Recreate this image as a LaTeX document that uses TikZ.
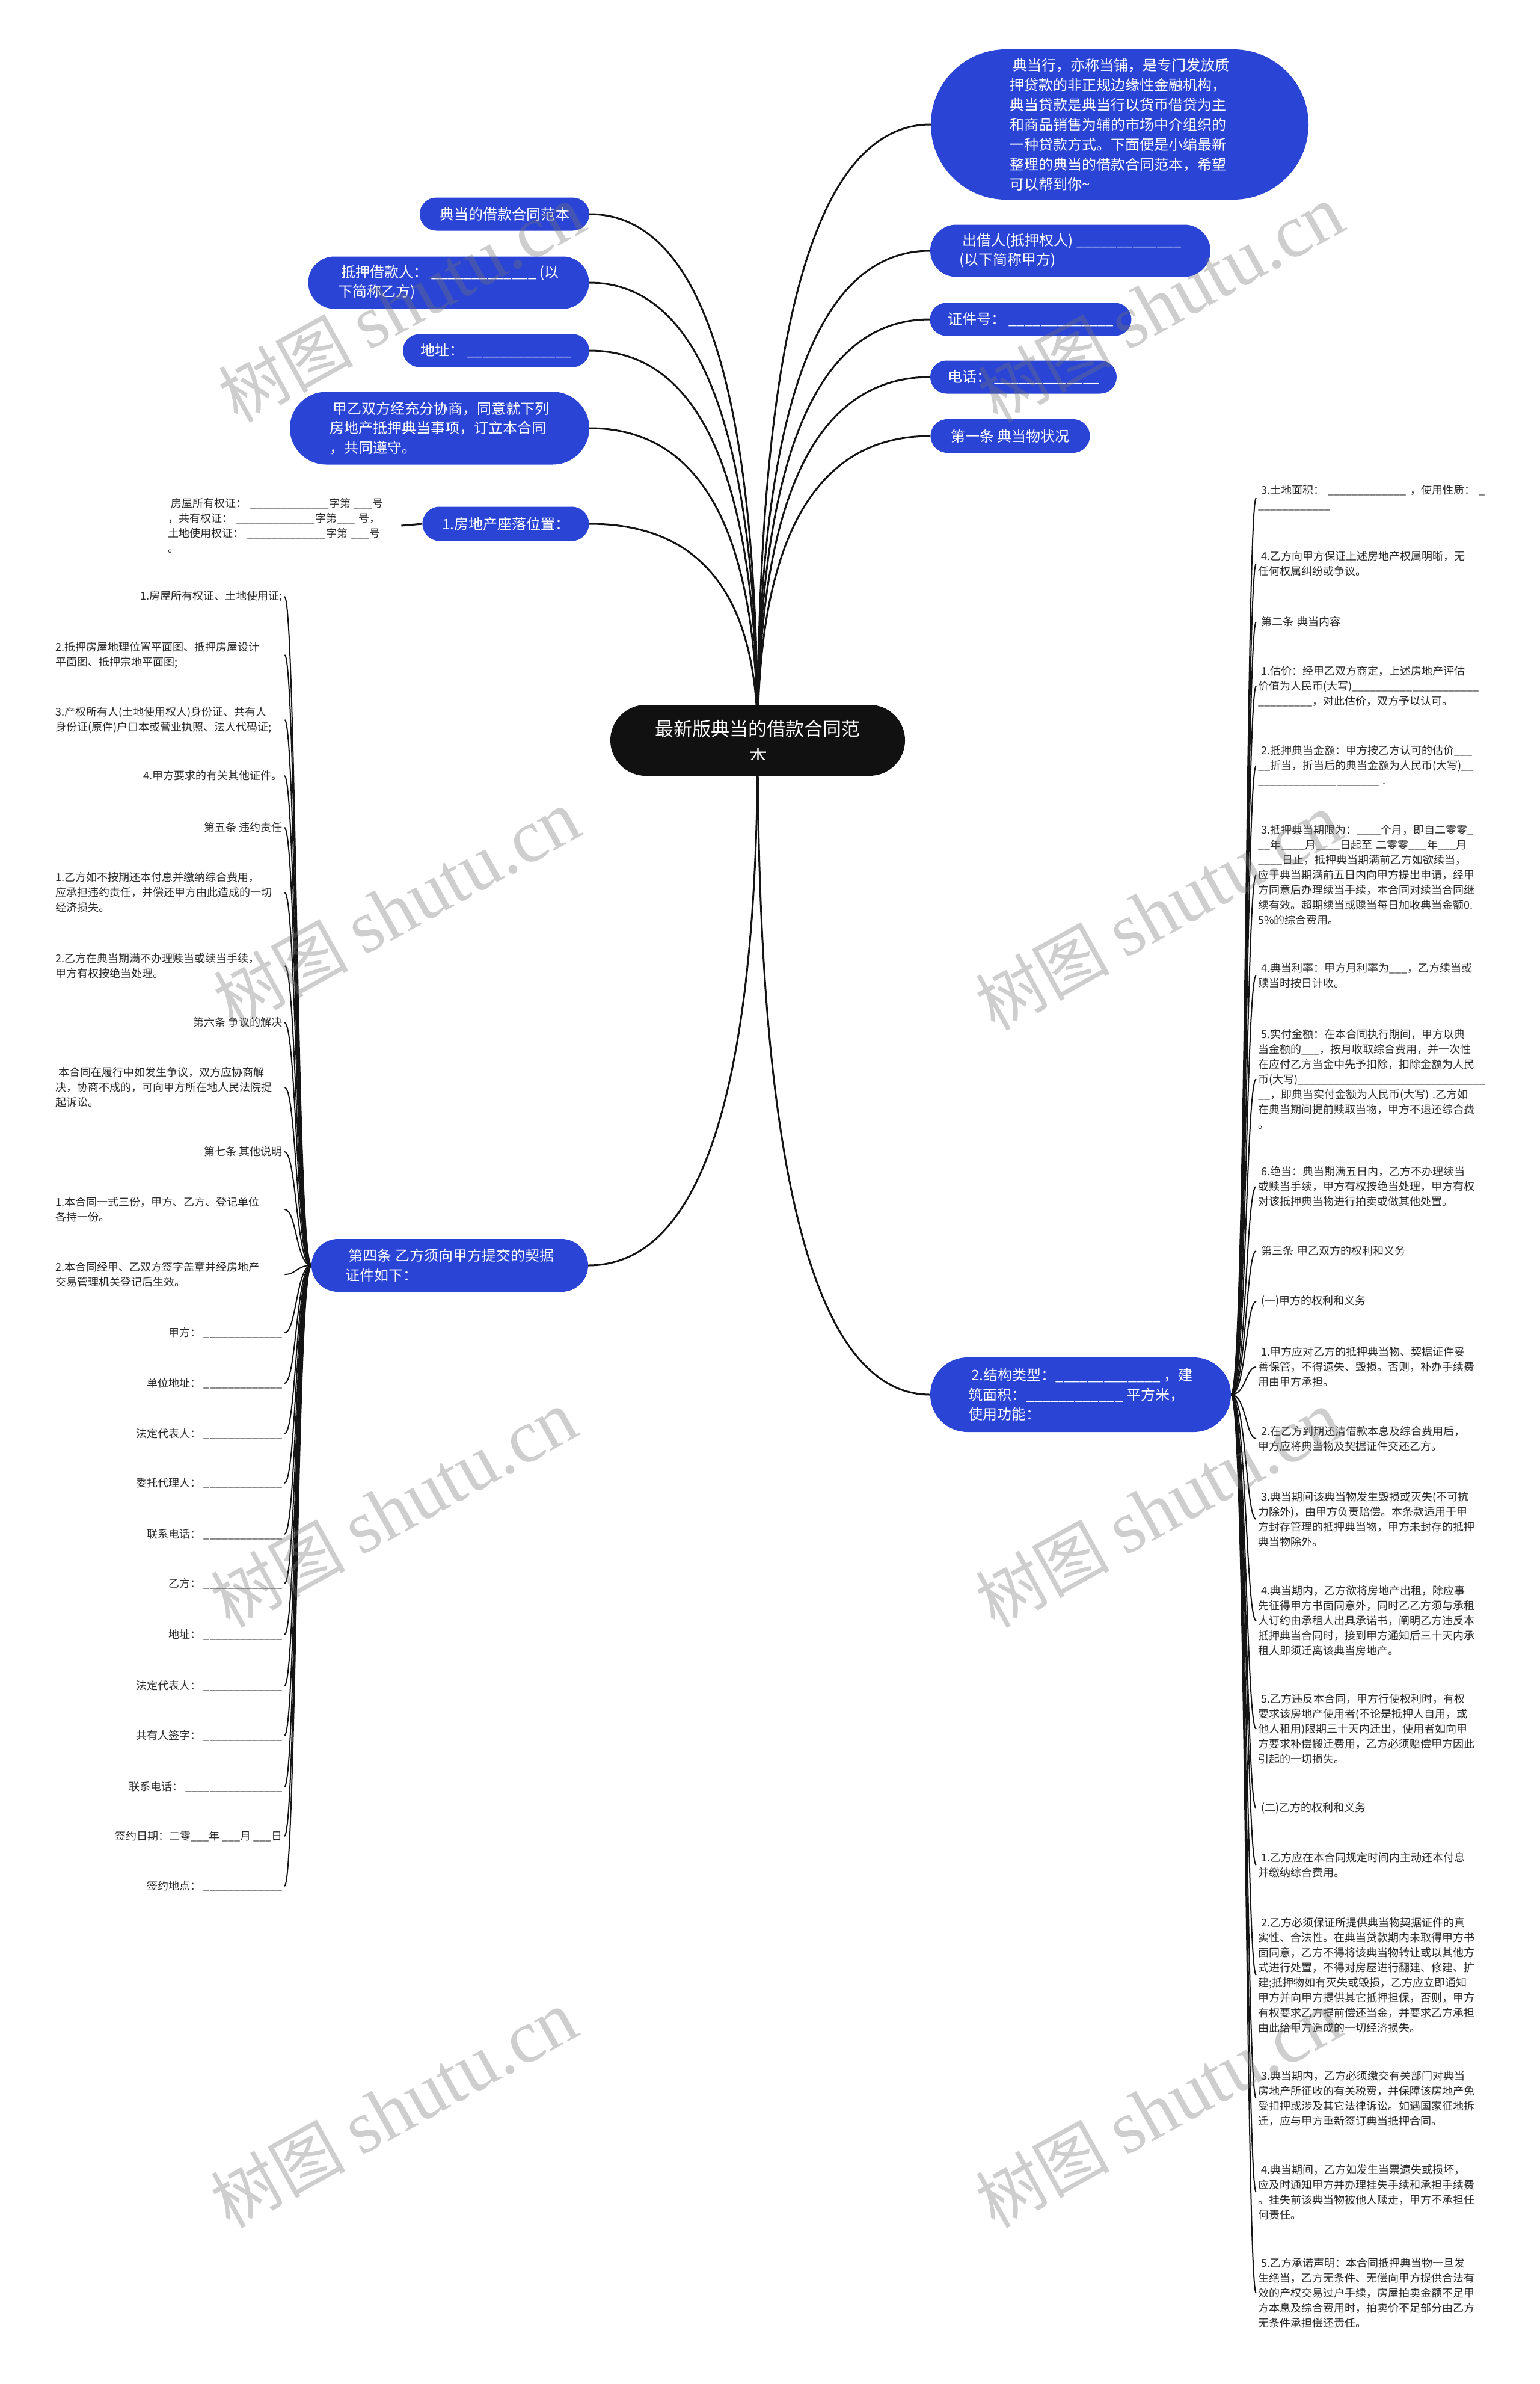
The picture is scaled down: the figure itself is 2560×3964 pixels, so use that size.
\documentclass[tikz,border=0pt]{standalone}
\usepackage{fontspec}
\setmainfont{Noto Sans CJK SC}
\newfontfamily\wmserif{Liberation Serif}
\usetikzlibrary{shapes.misc,backgrounds}
\definecolor{nblue}{RGB}{42,68,214}
\definecolor{nblack}{RGB}{17,17,17}
\definecolor{ltext}{RGB}{40,40,40}
\definecolor{linec}{RGB}{20,20,20}
\ExplSyntaxOn
\NewDocumentCommand\us{m}{\prg_replicate:nn{#1}{\_}}
\ExplSyntaxOff
\newcommand\ls{\hspace*{5pt}}
\newcommand\fblue{\fontsize{24}{32.5}\selectfont}
\newcommand\fbig{\fontsize{24}{33}\selectfont}
\newcommand\flist{\fontsize{18}{25}\selectfont}
\newcommand\fctr{\fontsize{31}{41}\selectfont}
\newcommand\fwm{\fontsize{112}{112}\selectfont}
\tikzset{
  bluenode/.style={rounded rectangle, fill=nblue, text=white, font=\fblue, align=left, inner sep=0pt},
  ctrnode/.style={rounded rectangle, fill=nblack, inner sep=0pt},
  litem/.style={font=\flist, text=ltext, align=left, inner sep=3pt},
  lmulti/.style={litem, text width=378pt, anchor=west},
  lsingle/.style={litem, anchor=east},
  ritem/.style={litem, text width=400pt, anchor=west},
  conn/.style={line width=3pt, draw=linec},
  lconn/.style={line width=2pt, draw=linec},
  wm/.style={rotate=29, text=black!55, text opacity=0.35, font=\fwm, inner sep=0pt}
}
\begin{document}
\begin{tikzpicture}[x=1pt,y=-1pt]
\useasboundingbox (0,0) rectangle (2560,3964);

% ---------- centre ----------
\node[ctrnode, minimum width=490pt, minimum height=118pt] (ctr) at (1260,1231) {};
\node[font=\fctr, text=white, inner sep=0pt] (ctrt) at (1260,1212) {最新版典当的借款合同范};
\begin{scope}
\clip (1015,1230) rectangle (1505,1262);
\node[font=\fctr, text=white, inner sep=0pt] (ctrb) at (1261,1258) {本};
\end{scope}

% ---------- right blue nodes ----------
\node[bluenode, font=\fbig, minimum width=628pt, minimum height=250pt] (intro) at (1862,207)
 {\ls 典当行，亦称当铺，是专门发放质\\押贷款的非正规边缘性金融机构，\\典当贷款是典当行以货币借贷为主\\和商品销售为辅的市场中介组织的\\一种贷款方式。下面便是小编最新\\整理的典当的借款合同范本，希望\\可以帮到你\textasciitilde};
\node[bluenode, minimum width=466pt, minimum height=87pt] (lender) at (1780,417)
 {\ls 出借人(抵押权人) \us{13}\\(以下简称甲方)};
\node[bluenode, minimum width=335pt, minimum height=55pt] (idno) at (1714,531) {证件号： \us{13}};
\node[bluenode, minimum width=310pt, minimum height=55pt] (tel) at (1702,627) {电话： \us{13}};
\node[bluenode, minimum width=265pt, minimum height=56pt] (art1) at (1680,725) {第一条 典当物状况};
\node[bluenode, minimum width=500pt, minimum height=124pt] (struct) at (1797,2319)
 {\ls 2.结构类型：\us{13} ，建\\筑面积：\us{12} 平方米，\\使用功能：};

% ---------- left blue nodes ----------
\node[bluenode, minimum width=282pt, minimum height=55pt] (title) at (839,356) {典当的借款合同范本};
\node[bluenode, minimum width=467pt, minimum height=87pt] (borrower) at (746,470)
 {\ls 抵押借款人： \us{13} (以\\下简称乙方)};
\node[bluenode, minimum width=310pt, minimum height=55pt] (addr) at (825,583) {地址： \us{13}};
\node[bluenode, minimum width=498pt, minimum height=121pt] (agree) at (731,712)
 {\ls 甲乙双方经充分协商，同意就下列\\房地产抵押典当事项，订立本合同\\，共同遵守。};
\node[bluenode, minimum width=277pt, minimum height=57pt] (loc) at (841,871) {1.房地产座落位置：};
\node[bluenode, minimum width=460pt, minimum height=88pt] (art4) at (748,2104)
 {\ls 第四条 乙方须向甲方提交的契据\\证件如下：};

\node[litem, text width=385pt, anchor=west] (prop) at (276,874)
 {\ls 房屋所有权证： \us{13}字第 \us{3}号\\，共有权证： \us{13}字第\us{3} 号，\\土地使用权证： \us{13}字第 \us{3}号\\。};

% ---------- left list ----------
\node[lsingle] (l1) at (473,992) {1.房屋所有权证、土地使用证;};
\node[lmulti] (l2) at (89,1089) {2.抵押房屋地理位置平面图、抵押房屋设计\\平面图、抵押宗地平面图;};
\node[lmulti] (l3) at (89,1197) {3.产权所有人(土地使用权人)身份证、共有人\\身份证(原件)户口本或营业执照、法人代码证;};
\node[lsingle] (l4) at (473,1290) {4.甲方要求的有关其他证件。};
\node[lsingle] (l5) at (473,1376) {第五条 违约责任};
\node[lmulti] (l6) at (89,1484) {1.乙方如不按期还本付息并缴纳综合费用，\\应承担违约责任，并偿还甲方由此造成的一切\\经济损失。};
\node[lmulti] (l7) at (89,1606) {2.乙方在典当期满不办理赎当或续当手续，\\甲方有权按绝当处理。};
\node[lsingle] (l8) at (473,1700) {第六条 争议的解决};
\node[lmulti] (l9) at (89,1808) {\ls 本合同在履行中如发生争议，双方应协商解\\决，协商不成的，可向甲方所在地人民法院提\\起诉讼。};
\node[lsingle] (l10) at (473,1915) {第七条 其他说明};
\node[lmulti] (l11) at (89,2011) {1.本合同一式三份，甲方、乙方、登记单位\\各持一份。};
\node[lmulti] (l12) at (89,2119) {2.本合同经甲、乙双方签字盖章并经房地产\\交易管理机关登记后生效。};
\node[lsingle] (l13) at (473,2216) {甲方： \us{13}};
\node[lsingle] (l14) at (473,2300) {单位地址： \us{13}};
\node[lsingle] (l15) at (473,2384) {法定代表人： \us{13}};
\node[lsingle] (l16) at (473,2466) {委托代理人： \us{13}};
\node[lsingle] (l17) at (473,2551) {联系电话： \us{13}};
\node[lsingle] (l18) at (473,2633) {乙方： \us{13}};
\node[lsingle] (l19) at (473,2718) {地址： \us{13}};
\node[lsingle] (l20) at (473,2803) {法定代表人： \us{13}};
\node[lsingle] (l21) at (473,2886) {共有人签字： \us{13}};
\node[lsingle] (l22) at (473,2971) {联系电话： \us{16}};
\node[lsingle] (l23) at (473,3053) {签约日期：二零\us{3}年 \us{3}月 \us{3}日};
\node[lsingle] (l24) at (473,3136) {签约地点： \us{13}};

% ---------- right list ----------
\node[ritem] (r1) at (2089,828) {\ls 3.土地面积： \us{13} ，使用性质： \_\\\us{12}};
\node[ritem] (r2) at (2089,937) {\ls 4.乙方向甲方保证上述房地产权属明晰，无\\任何权属纠纷或争议。};
\node[ritem] (r3) at (2089,1034) {\ls 第二条 典当内容};
\node[ritem] (r4) at (2089,1141) {\ls 1.估价：经甲乙双方商定，上述房地产评估\\价值为人民币(大写)\us{21}\\\us{9}，对此估价，双方予以认可。};
\node[ritem] (r5) at (2089,1273) {\ls 2.抵押典当金额：甲方按乙方认可的估价\us{3}\\\us{2}折当，折当后的典当金额为人民币(大写)\us{2}\\\us{20} .};
\node[ritem] (r6) at (2089,1455) {\ls 3.抵押典当期限为：\us{4}个月，即自二零零\_\\\us{2}年\us{4}月\us{4}日起至 二零零\us{3}年\us{3}月\\\us{4}日止，抵押典当期满前乙方如欲续当，\\应于典当期满前五日内向甲方提出申请，经甲\\方同意后办理续当手续，本合同对续当合同继\\续有效。超期续当或赎当每日加收典当金额0.\\5\%的综合费用。};
\node[ritem] (r7) at (2089,1622) {\ls 4.典当利率：甲方月利率为\us{3}，乙方续当或\\赎当时按日计收。};
\node[ritem] (r8) at (2089,1794) {\ls 5.实付金额：在本合同执行期间，甲方以典\\当金额的\us{3}，按月收取综合费用，并一次性\\在应付乙方当金中先予扣除，扣除金额为人民\\币(大写)\us{31}\\\us{2}，即典当实付金额为人民币(大写) .乙方如\\在典当期间提前赎取当物，甲方不退还综合费\\。};
\node[ritem] (r9) at (2089,1973) {\ls 6.绝当：典当期满五日内，乙方不办理续当\\或赎当手续，甲方有权按绝当处理，甲方有权\\对该抵押典当物进行拍卖或做其他处置。};
\node[ritem] (r10) at (2089,2080) {\ls 第三条 甲乙双方的权利和义务};
\node[ritem] (r11) at (2089,2164) {\ls (一)甲方的权利和义务};
\node[ritem] (r12) at (2089,2273) {\ls 1.甲方应对乙方的抵押典当物、契据证件妥\\善保管，不得遗失、毁损。否则，补办手续费\\用由甲方承担。};
\node[ritem] (r13) at (2089,2392) {\ls 2.在乙方到期还清借款本息及综合费用后，\\甲方应将典当物及契据证件交还乙方。};
\node[ritem] (r14) at (2089,2526) {\ls 3.典当期间该典当物发生毁损或灭失(不可抗\\力除外)，由甲方负责赔偿。本条款适用于甲\\方封存管理的抵押典当物，甲方未封存的抵押\\典当物除外。};
\node[ritem] (r15) at (2089,2695) {\ls 4.典当期内，乙方欲将房地产出租，除应事\\先征得甲方书面同意外，同时乙乙方须与承租\\人订约由承租人出具承诺书，阐明乙方违反本\\抵押典当合同时，接到甲方通知后三十天内承\\租人即须迁离该典当房地产。};
\node[ritem] (r16) at (2089,2875) {\ls 5.乙方违反本合同，甲方行使权利时，有权\\要求该房地产使用者(不论是抵押人自用，或\\他人租用)限期三十天内迁出，使用者如向甲\\方要求补偿搬迁费用，乙方必须赔偿甲方因此\\引起的一切损失。};
\node[ritem] (r17) at (2089,3007) {\ls (二)乙方的权利和义务};
\node[ritem] (r18) at (2089,3101) {\ls 1.乙方应在本合同规定时间内主动还本付息\\并缴纳综合费用。};
\node[ritem] (r19) at (2089,3284) {\ls 2.乙方必须保证所提供典当物契据证件的真\\实性、合法性。在典当贷款期内未取得甲方书\\面同意，乙方不得将该典当物转让或以其他方\\式进行处置，不得对房屋进行翻建、修建、扩\\建;抵押物如有灭失或毁损，乙方应立即通知\\甲方并向甲方提供其它抵押担保，否则，甲方\\有权要求乙方提前偿还当金，并要求乙方承担\\由此给甲方造成的一切经济损失。};
\node[ritem] (r20) at (2089,3489) {\ls 3.典当期内，乙方必须缴交有关部门对典当\\房地产所征收的有关税费，并保障该房地产免\\受扣押或涉及其它法律诉讼。如遇国家征地拆\\迁，应与甲方重新签订典当抵押合同。};
\node[ritem] (r21) at (2089,3645) {\ls 4.典当期间，乙方如发生当票遗失或损坏，\\应及时通知甲方并办理挂失手续和承担手续费\\。挂失前该典当物被他人赎走，甲方不承担任\\何责任。};
\node[ritem] (r22) at (2089,3813) {\ls 5.乙方承诺声明：本合同抵押典当物一旦发\\生绝当，乙方无条件、无偿向甲方提供合法有\\效的产权交易过户手续，房屋拍卖金额不足甲\\方本息及综合费用时，拍卖价不足部分由乙方\\无条件承担偿还责任。};

% ---------- connectors ----------
\begin{pgfonlayer}{background}
\fill[white] (0,0) rectangle (2560,3964);
\draw[conn] (ctr.center) .. controls (1260,548) and (1356,207) .. (intro.west);
\draw[conn] (ctr.center) .. controls (1260,688) and (1356,417) .. (lender.west);
\draw[conn] (ctr.center) .. controls (1260,764) and (1356,531) .. (idno.west);
\draw[conn] (ctr.center) .. controls (1260,828) and (1356,627) .. (tel.west);
\draw[conn] (ctr.center) .. controls (1260,894) and (1356,725) .. (art1.west);
\draw[conn] (ctr.center) .. controls (1260,648) and (1167,356) .. (title.east);
\draw[conn] (ctr.center) .. controls (1260,724) and (1167,470) .. (borrower.east);
\draw[conn] (ctr.center) .. controls (1260,799) and (1167,583) .. (addr.east);
\draw[conn] (ctr.center) .. controls (1260,885) and (1167,712) .. (agree.east);
\draw[conn] (ctr.center) .. controls (1260,991) and (1167,871) .. (loc.east);
\draw[conn] (ctr.center) .. controls (1260,1813) and (1166,2104) .. (art4.east);
\draw[conn] (ctr.center) .. controls (1260,1956) and (1356,2319) .. (struct.west);
\draw[conn] (loc.west) -- (prop.east);
\foreach \n/\y in {l1/992,l2/1089,l3/1197,l4/1290,l5/1376,l6/1484,l7/1606,l8/1700,l9/1808,l10/1915,l11/2011,l12/2119,l13/2216,l14/2300,l15/2384,l16/2466,l17/2551,l18/2633,l19/2718,l20/2803,l21/2886,l22/2971,l23/3053,l24/3136}
  \draw[lconn] (art4.west) .. controls (493,2104) and (493,\y) .. (\n.east);
\foreach \n/\y in {r1/828,r2/937,r3/1034,r4/1141,r5/1273,r6/1455,r7/1622,r8/1794,r9/1973,r10/2080,r11/2164,r12/2273,r13/2392,r14/2526,r15/2695,r16/2875,r17/3007,r18/3101,r19/3284,r20/3489,r21/3645,r22/3813}
  \draw[lconn] (struct.east) .. controls (2072,2319) and (2072,\y) .. (\n.west);
\end{pgfonlayer}

% ---------- watermarks ----------
\foreach \i/\x/\y in {1/668/505,2/1930/505,3/660/1511,4/1926/1516,5/655/2509,6/1926/2509,7/655/3507,8/1926/3507}
  \node[wm] (wm\i) at (\x,\y) {树图 {\wmserif\fontsize{125}{125}\selectfont shutu.cn}};
\end{tikzpicture}
\end{document}
